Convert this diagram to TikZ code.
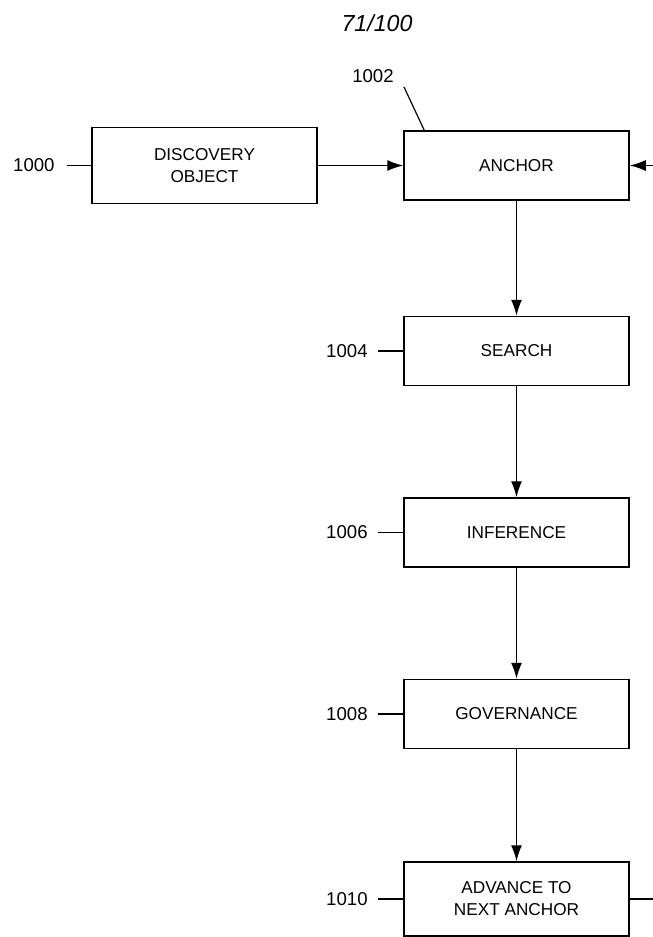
\documentclass[tikz,border=0pt]{standalone}
\usepackage{fontspec}
\setmainfont{Liberation Sans}
\usepackage{tikz}
\usetikzlibrary{arrows.meta,positioning}

\tikzset{
  block/.style={draw, line width=0.75pt, minimum width=112.5pt, minimum height=34.5pt,
    align=center, font=\fontsize{8.6}{11}\selectfont},
  reflabel/.style={font=\fontsize{9.3}{11}\selectfont, inner sep=0pt},
  flow/.style={line width=0.65pt, -{Latex[length=8pt,width=5.5pt]}},
  leader/.style={line width=0.6pt}
}

\begin{document}
\begin{tikzpicture}[x=0.5pt, y=-0.5pt]
    \useasboundingbox (0,0) rectangle (653,937);
    \clip (0,0) rectangle (653,937);
    \node[font=\itshape\fontsize{11.6}{14}\selectfont] (pagenum) at (377,23) {71/100};

    % top row
    \node[block, minimum height=38pt] (discovery) at (204.5,165.5) {DISCOVERY\\OBJECT};
    \node[block] (anchor) at (516.5,165.5) {ANCHOR};
    \node[reflabel, anchor=east] (l1000) at (55,165.5) {1000};
    \draw[leader] ([xshift=6pt]l1000.east) -- (discovery.west);
    \node[reflabel] (l1002) at (373,76) {1002};
    \coordinate (lead1002) at (404,87);
    \draw[leader] (lead1002) -- ([xshift=10.5pt]anchor.north west);

    % vertical chain
    \foreach \name/\txt/\ypos/\num in {search/SEARCH/351/1004, inference/INFERENCE/532.5/1006, governance/GOVERNANCE/714/1008} {
      \node[block] (\name) at (516.5,\ypos) {\txt};
      \node[reflabel, anchor=east] (l\num) at (368,\ypos) {\num};
      \draw[leader] ([xshift=5pt]l\num.east) -- (\name.west);
    }
    \node[block, minimum height=37pt] (advance) at (516.5,899) {ADVANCE TO\\NEXT ANCHOR};
    \node[reflabel, anchor=east] (l1010) at (368,899) {1010};
    \draw[leader] ([xshift=5pt]l1010.east) -- (advance.west);

    % connectors
    \draw[flow] (discovery) -- (anchor);
    \draw[flow] (anchor) -- (search);
    \draw[flow] (search) -- (inference);
    \draw[flow] (inference) -- (governance);
    \draw[flow] (governance) -- (advance);
    \draw[flow] (advance.east) -- ++(40,0) |- (anchor.east);
\end{tikzpicture}
\end{document}
